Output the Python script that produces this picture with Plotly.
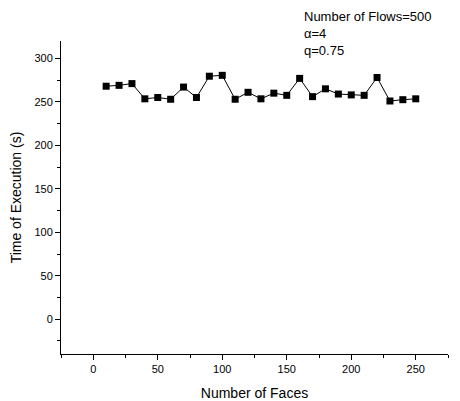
import plotly.graph_objects as go

faces = [10, 20, 30, 40, 50, 60, 70, 80, 90, 100, 110, 120, 130, 140, 150,
         160, 170, 180, 190, 200, 210, 220, 230, 240, 250]
exec_time = [268, 269, 271, 253.5, 255, 253, 267, 255, 279.5, 280.5, 253, 261,
             253.5, 260, 257.5, 277, 256, 265, 259, 258, 257.5, 278, 251, 252.5, 253.5]

x_ticks = [0, 50, 100, 150, 200, 250]
y_ticks = [0, 50, 100, 150, 200, 250, 300]

fig = go.Figure()
fig.add_trace(go.Scatter(
    x=faces, y=exec_time, mode="lines+markers",
    line=dict(color="black", width=1),
    marker=dict(symbol="square", size=7, color="black"),
    showlegend=False,
))

axis_common = dict(
    showgrid=False, zeroline=False, showline=True, linecolor="black", linewidth=1,
    ticks="outside", ticklen=5, tickcolor="black", tickwidth=1, automargin=False,
    tickfont=dict(family="Liberation Sans, Arial", size=11, color="black"),
    minor=dict(ticks="outside", ticklen=3, tickcolor="black", tickwidth=1),
    title_font=dict(family="Liberation Sans, Arial", size=14, color="black"),
)

fig.update_xaxes(range=[-25, 275], tickvals=x_ticks, title_text="Number of Faces",
                 title_standoff=13, **axis_common)
fig.update_xaxes(minor_dtick=25, minor_tick0=-25)
fig.update_yaxes(range=[-40, 320], tickvals=y_ticks, title_text="Time of Execution (s)",
                 title_standoff=9, **axis_common)
fig.update_yaxes(minor_dtick=25, minor_tick0=-25)

fig.add_annotation(
    xref="paper", yref="paper", x=0.625, y=1.105, xanchor="left", yanchor="top",
    text="Number of Flows=500<br>α=4<br>q=0.75", showarrow=False, align="left",
    borderpad=0,
    font=dict(family="Liberation Sans, Arial", size=13, color="black"),
)

# page body has an 8px default margin; compensate so the plot area lands at the reference spot
fig.update_layout(
    width=452, height=393,
    margin=dict(l=53, r=12, t=33, b=47),
    plot_bgcolor="white", paper_bgcolor="white",
)

fig.write_html("out.html")
